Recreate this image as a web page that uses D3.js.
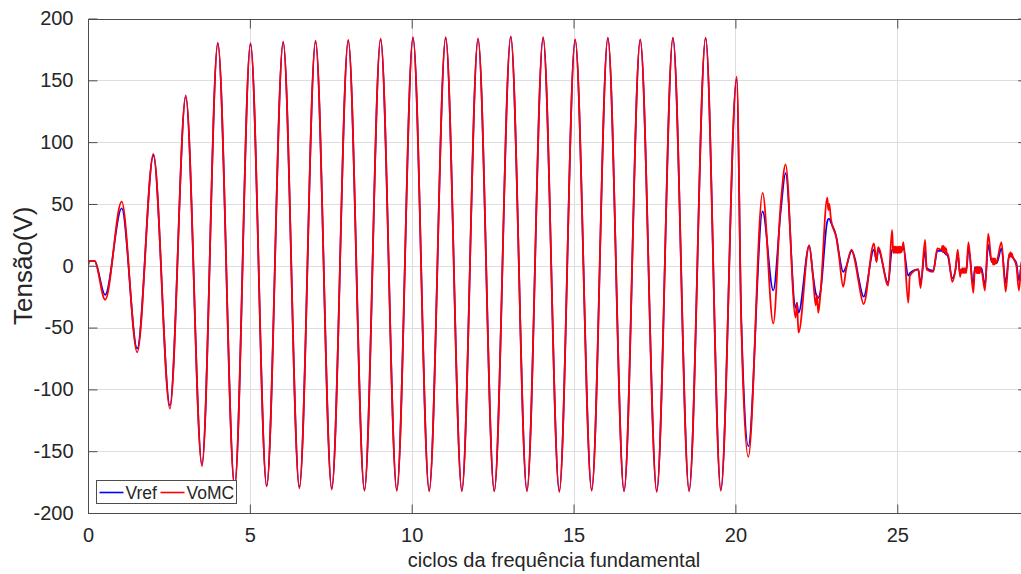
<!DOCTYPE html>
<html>
<head>
<meta charset="utf-8">
<script src="https://cdn.jsdelivr.net/npm/d3@7"></script>
<style>
  body { margin: 0; background: #fff; }
  svg { display: block; }
  text { font-family: "Liberation Sans", Arial, Helvetica, sans-serif; fill: #262626; }
</style>
</head>
<body>
<svg id="chart" width="1021" height="574"></svg>
<script>
// Time axis in cycles of the fundamental frequency
const cycles = [
  0.00, 0.04, 0.20, 0.53, 1.04, 1.52, 2.02, 2.53, 3.02, 3.52,
  4.01, 4.53, 5.02, 5.52, 6.03, 6.53, 7.03, 7.53, 8.04, 8.54,
  9.04, 9.54, 10.04, 10.54, 11.05, 11.55, 12.05, 12.55, 13.06, 13.56,
  14.06, 14.56, 15.05, 15.56, 16.06, 16.56, 17.06, 17.57, 18.07, 18.57,
  19.08, 19.55, 20.04, 20.18, 20.22, 20.40, 20.84, 21.17, 21.40, 21.55,
  21.86, 21.90, 21.95, 22.28, 22.40, 22.48, 22.52, 22.56, 22.62, 22.84,
  22.87, 22.90, 22.95, 23.13, 23.20, 23.33, 23.42, 23.59, 23.70, 23.80,
  23.96, 24.28, 24.36, 24.41, 24.72, 24.84, 24.87,
  24.89, 24.91, 24.93, 24.95, 24.97, 24.99, 25.01, 25.03, 25.05, 25.07, 25.09, 25.11, 25.13,
  25.15, 25.19, 25.34, 25.39, 25.65, 25.72, 25.86, 25.91, 26.11, 26.24, 26.37,
  26.39, 26.41, 26.43, 26.45, 26.47, 26.49, 26.51, 26.53,
  26.56, 26.70, 26.80, 26.87, 26.94,
  26.98, 27.00, 27.02, 27.04, 27.06, 27.08, 27.10, 27.12, 27.14,
  27.20, 27.35, 27.40,
  27.42, 27.44, 27.46, 27.48, 27.50, 27.52, 27.54, 27.56, 27.58,
  27.60, 27.71, 27.81, 27.92,
  27.94, 27.96, 27.98, 28.00, 28.02, 28.04,
  28.07, 28.22, 28.35, 28.46,
  28.48, 28.50, 28.52, 28.54,
  28.56, 28.68, 28.76, 28.85, 28.95
];

// Reference voltage (V)
const vref = [
  0, 4, 4, -23.5, 46.5, -67, 89, -113, 136.5, -160.5,
  179.5, -178, 179, -178, 180.5, -179, 181, -180, 182, -181,
  183, -181, 184, -181.5, 184, -181.5, 183, -182, 185, -181.5,
  184, -182, 182.5, -181, 184, -182, 182.5, -182, 184, -181.5,
  184, -181, 151, -42, -75, -146, 44, -20, 44, 75,
  -34, -30, -38, 16, -8, -22, -25, -26, -22, 36,
  38, 38, 35, 22, 10, -5, -1, 12, 5, -9,
  -25, 13, 4, 13, -14, 13, 13,
  13, 13, 13, 13, 13, 13, 13, 13, 13, 13, 13, 13, 13,
  13, 14, -8, -6, -3, -14, 12, -2, -4, 12, 12,
  12, 12, 11, 11, 10, 10, 9, 9,
  8, -10, -3, 10, -7,
  -3, -3, -3, -3, -3, -3, -3, -3, -3,
  14, -15, -1,
  -2, -2, -2, -2, -2, -2, -2, -2, -2,
  -2, -16, 17, 3,
  3, 3, 3, 2, 2, 2,
  2, 14, -14, 9,
  9, 9, 8, 8,
  7, 2, -12, 3, 5
];

// Output voltage of the matrix converter (V)
const vomc = [
  0, 4, 4, -27.5, 51.8, -70, 90.5, -115.5, 137.8, -162,
  180.5, -179, 180, -178.5, 181.3, -180, 182, -181, 182.6, -182,
  183.7, -182, 185, -182.5, 185, -182.5, 184, -182.5, 185.5, -182.5,
  185, -183, 183, -182, 184.5, -182.5, 183, -183, 184.5, -182.5,
  184.5, -182, 153, -45, -82, -154.5, 59, -46.6, 50, 82,
  -42, -30, -54, 16.7, -10, -32, -24, -38, -25, 55,
  45, 50, 38, 21, 8, -17, -3, 13, 3, -12,
  -31, 18, 3, 15, -16, 29, 13,
  10.5, 15.5, 10.5, 15.5, 10.5, 15.5, 10.5, 15.5, 10.5, 15.5, 10.5, 15.5, 11,
  13, 19, -30, -8, -3, -18, 21, -3, -5, 14, 13,
  16, 11, 16, 11, 15, 10, 14, 9,
  10, -13, -3, 13, -9,
  -3, -6, -2, -6, -2, -6, -2, -6, -3,
  19, -22, -2,
  -5, -1, -6, -1, -6, -1, -6, -1, -5,
  -4, -20, 26, 3,
  6, 1, 6, 1, 6, 2,
  3, 19, -21, 10,
  7, 11, 7, 10,
  8, 0, -20, 5, 5
];

const seriesNames = ["Vref", "VoMC"];
const seriesColors = ["#0000ff", "#ff0000"];
const xTicks = [0, 5, 10, 15, 20, 25];
const yTicks = [-200, -150, -100, -50, 0, 50, 100, 150, 200];
const xTitle = "ciclos da frequência fundamental";
const yTitle = "Tensão(V)";

const svg = d3.select("#chart");
const plotLeft = 88, plotTop = 18.5, plotBottom = 513;
const x = d3.scaleLinear().domain([0, 29]).range([plotLeft, plotLeft + 29 * 32.37]);
const y = d3.scaleLinear().domain([-200, 200]).range([plotBottom, plotTop]);
const plotRight = x(29);

svg.append("defs").append("clipPath").attr("id", "plotClip")
  .append("rect").attr("x", plotLeft).attr("y", plotTop)
  .attr("width", plotRight - plotLeft).attr("height", plotBottom - plotTop);

// grid
const grid = svg.append("g");
grid.selectAll("line.gx").data(xTicks.filter(d => d > 0)).join("line")
  .attr("x1", d => Math.round(x(d)) + 0.5).attr("x2", d => Math.round(x(d)) + 0.5)
  .attr("y1", plotTop).attr("y2", plotBottom)
  .attr("stroke", "#dedede").attr("stroke-width", 1);
grid.selectAll("line.gy").data(yTicks).join("line")
  .attr("y1", d => Math.round(y(d)) + 0.5).attr("y2", d => Math.round(y(d)) + 0.5)
  .attr("x1", plotLeft).attr("x2", plotRight)
  .attr("stroke", "#dedede").attr("stroke-width", 1);

// series
const rows = cycles.map((t, i) => ({ t, ref: vref[i], mc: vomc[i] }));
const plot = svg.append("g").attr("clip-path", "url(#plotClip)");
const lineRef = d3.line().x(d => x(d.t)).y(d => y(d.ref)).curve(d3.curveMonotoneX);
const lineMC = d3.line().x(d => x(d.t)).y(d => y(d.mc)).curve(d3.curveMonotoneX);
plot.append("path").datum(rows).attr("d", lineRef)
  .attr("fill", "none").attr("stroke", seriesColors[0]).attr("stroke-width", 1.7)
  .attr("stroke-linejoin", "round");
plot.append("path").datum(rows).attr("d", lineMC)
  .attr("fill", "none").attr("stroke", seriesColors[1]).attr("stroke-width", 1.8)
  .attr("stroke-linejoin", "round");

// axes box with inward ticks
const axisColor = "#4d4d4d";
const tickLen = 9;
const box = svg.append("g");
box.append("rect").attr("x", plotLeft + 0.5).attr("y", Math.round(plotTop) + 0.5)
  .attr("width", plotRight - plotLeft).attr("height", Math.round(plotBottom) - Math.round(plotTop))
  .attr("fill", "none").attr("stroke", axisColor).attr("stroke-width", 1);

const xAxisB = d3.axisBottom(x).tickValues(xTicks).tickSize(-tickLen).tickPadding(tickLen + 5).tickFormat(d3.format("d"));
const xAxisT = d3.axisTop(x).tickValues(xTicks).tickSize(-tickLen).tickFormat("");
const yAxisL = d3.axisLeft(y).tickValues(yTicks).tickSize(-tickLen).tickPadding(tickLen + 6).tickFormat(d => String(d));
const yAxisR = d3.axisRight(y).tickValues(yTicks).tickSize(-tickLen).tickFormat("");

function styleAxis(g) {
  g.select(".domain").remove();
  g.selectAll(".tick line").attr("stroke", axisColor);
  g.selectAll(".tick text").attr("font-size", 20).attr("fill", "#262626")
    .attr("font-family", '"Liberation Sans", Arial, sans-serif');
}
svg.append("g").attr("transform", `translate(0,${Math.round(plotBottom) + 0.5})`).call(xAxisB).call(styleAxis);
svg.append("g").attr("transform", `translate(0,${Math.round(plotTop) + 0.5})`).call(xAxisT).call(styleAxis);
svg.append("g").attr("transform", `translate(${plotLeft + 0.5},0)`).call(yAxisL).call(styleAxis);
svg.append("g").attr("transform", `translate(${plotRight + 0.5},0)`).call(yAxisR).call(styleAxis);

// titles
svg.append("text").attr("x", 554).attr("y", 567).attr("text-anchor", "middle")
  .attr("font-size", 20).text(xTitle);
svg.append("text").attr("transform", `translate(32,${(plotTop + plotBottom) / 2}) rotate(-90)`)
  .attr("text-anchor", "middle").attr("font-size", 26).text(yTitle);

// legend
const lg = svg.append("g").attr("transform", "translate(96.5,480.5)");
lg.append("rect").attr("width", 140).attr("height", 23)
  .attr("fill", "#fff").attr("stroke", axisColor).attr("stroke-width", 1);
const legendItems = [
  { name: seriesNames[0], color: seriesColors[0], x0: 3, tx: 29 },
  { name: seriesNames[1], color: seriesColors[1], x0: 64, tx: 90 }
];
legendItems.forEach(it => {
  lg.append("line").attr("x1", it.x0).attr("x2", it.x0 + 24).attr("y1", 12).attr("y2", 12)
    .attr("stroke", it.color).attr("stroke-width", 1.6);
  lg.append("text").attr("x", it.tx).attr("y", 18.5).attr("font-size", 17.5).text(it.name);
});
</script>
</body>
</html>
